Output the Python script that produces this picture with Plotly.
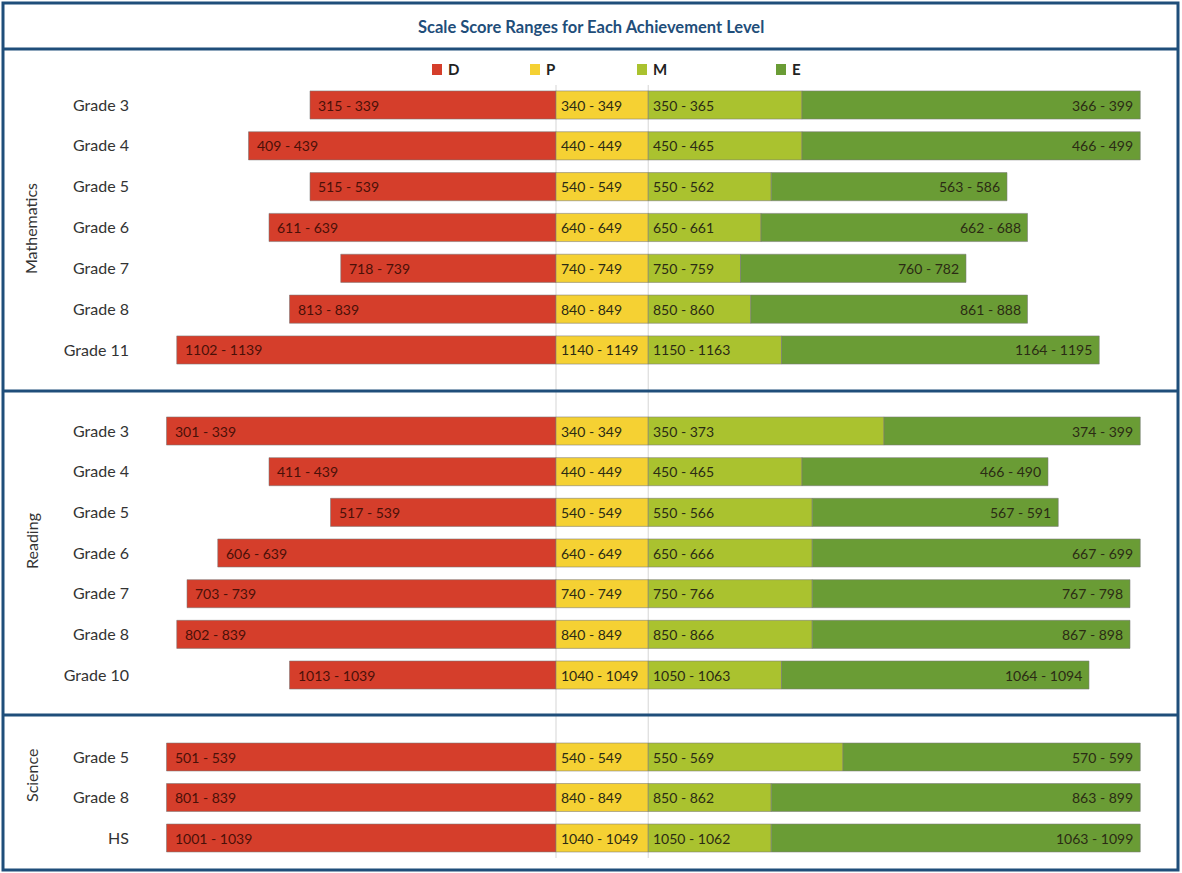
import plotly.graph_objects as go

# ---------------- data ----------------
levels = ["D", "P", "M", "E"]
level_colors = ["#D53E2B", "#F5D133", "#AAC22F", "#6A9C35"]

math_grades = ["Grade 3", "Grade 4", "Grade 5", "Grade 6", "Grade 7", "Grade 8", "Grade 11"]
math_d_lo = [315, 409, 515, 611, 718, 813, 1102]
math_p_lo = [340, 440, 540, 640, 740, 840, 1140]
math_m_lo = [350, 450, 550, 650, 750, 850, 1150]
math_e_lo = [366, 466, 563, 662, 760, 861, 1164]
math_e_hi = [399, 499, 586, 688, 782, 888, 1195]

read_grades = ["Grade 3", "Grade 4", "Grade 5", "Grade 6", "Grade 7", "Grade 8", "Grade 10"]
read_d_lo = [301, 411, 517, 606, 703, 802, 1013]
read_p_lo = [340, 440, 540, 640, 740, 840, 1040]
read_m_lo = [350, 450, 550, 650, 750, 850, 1050]
read_e_lo = [374, 466, 567, 667, 767, 867, 1064]
read_e_hi = [399, 490, 591, 699, 798, 898, 1094]

sci_grades = ["Grade 5", "Grade 8", "HS"]
sci_d_lo = [501, 801, 1001]
sci_p_lo = [540, 840, 1040]
sci_m_lo = [550, 850, 1050]
sci_e_lo = [570, 863, 1063]
sci_e_hi = [599, 899, 1099]

title_text = "Scale Score Ranges for Each Achievement Level"

# ---------------- layout constants ----------------
W, H = 1182, 873
FONT = "Lato"
NAVY = "#1F4E7A"
ZERO_PX = 556.0      # pixel where P starts
SCALE = 10.25        # pixels per score point
PLOT_LEFT_PX = 138

def py(p):
    return 1 - p / H

panels = [
    dict(name="Mathematics", grades=math_grades, d=math_d_lo, p=math_p_lo, m=math_m_lo,
         e=math_e_lo, hi=math_e_hi, axis="y", top=105, step=40.83, label_y=229),
    dict(name="Reading", grades=read_grades, d=read_d_lo, p=read_p_lo, m=read_m_lo,
         e=read_e_lo, hi=read_e_hi, axis="y2", top=431, step=40.67, label_y=541),
    dict(name="Science", grades=sci_grades, d=sci_d_lo, p=sci_p_lo, m=sci_m_lo,
         e=sci_e_lo, hi=sci_e_hi, axis="y3", top=757, step=40.5, label_y=776),
]

fig = go.Figure()
annotations = []
layout_axes = {}

for pn in panels:
    g = pn["grades"]
    n = len(g)
    dw = [(p - 1) - d for d, p in zip(pn["d"], pn["p"])]
    pw = [(m - 1) - p for p, m in zip(pn["p"], pn["m"])]
    mw = [(e - 1) - m for m, e in zip(pn["m"], pn["e"])]
    ew = [hi - e for e, hi in zip(pn["e"], pn["hi"])]
    widths = [dw, pw, mw, ew]
    bases = [[-w for w in dw], [0] * n, pw, [a + b for a, b in zip(pw, mw)]]
    lows = [pn["d"], pn["p"], pn["m"], pn["e"]]
    highs = [[p - 1 for p in pn["p"]], [m - 1 for m in pn["m"]],
             [e - 1 for e in pn["e"]], pn["hi"]]
    for li, lvl in enumerate(levels):
        fig.add_trace(go.Bar(
            orientation="h", y=g, x=widths[li], base=bases[li],
            marker=dict(color=level_colors[li], line=dict(color="rgba(120,120,120,0.55)", width=1)),
            width=0.69, xaxis="x", yaxis=pn["axis"], showlegend=False, name=lvl,
            hovertemplate=lvl + ": %{customdata}<extra></extra>",
            customdata=[f"{a} - {b}" for a, b in zip(lows[li], highs[li])],
        ))
        for i in range(n):
            txt = f"{lows[li][i]} - {highs[li][i]}"
            if lvl == "E":
                xa, xanc, shift = bases[li][i] + widths[li][i], "right", -5
            else:
                xa, xanc, shift = bases[li][i], "left", (6 if lvl == "D" else 3)
            annotations.append(dict(
                x=xa, y=g[i], xref="x", yref=pn["axis"], text=txt, showarrow=False,
                xanchor=xanc, xshift=shift, yanchor="middle",
                font=dict(family=FONT, size=14, color="#4A1008" if lvl == "D" else "#2B2B14"),
            ))
    top_px = pn["top"] - pn["step"] / 2
    bot_px = pn["top"] + pn["step"] * (n - 1) + pn["step"] / 2
    key = "yaxis" if pn["axis"] == "y" else "yaxis" + pn["axis"][1:]
    layout_axes[key] = dict(
        domain=[py(bot_px), py(top_px)], anchor="x",
        type="category", categoryorder="array", categoryarray=g,
        range=[n - 0.5, -0.5], showgrid=False, zeroline=False, showline=False,
        ticks="", ticklabelstandoff=8,
        tickfont=dict(family=FONT, size=16, color="#333333"),
        fixedrange=True,
    )
    annotations.append(dict(
        x=31 / W, y=py(pn["label_y"]), xref="paper", yref="paper", text=pn["name"],
        textangle=-90, showarrow=False, xanchor="center", yanchor="middle",
        font=dict(family=FONT, size=16, color="#333333"),
    ))

# title
annotations.append(dict(
    x=0.5, y=py(27), xref="paper", yref="paper", text="<b>" + title_text + "</b>",
    showarrow=False, xanchor="center", yanchor="middle",
    font=dict(family=FONT, size=16.5, color=NAVY),
))

shapes = []
# custom legend
legend_px = [432, 530, 637, 776]
for lvl, col, lx in zip(levels, level_colors, legend_px):
    shapes.append(dict(type="rect", xref="paper", yref="paper",
                       x0=lx / W, x1=(lx + 10) / W, y0=py(75), y1=py(64),
                       fillcolor=col, line=dict(width=0)))
    annotations.append(dict(x=(lx + 14) / W, y=py(69), xref="paper", yref="paper",
                            text="<b>" + lvl + "</b>", showarrow=False,
                            xanchor="left", yanchor="middle",
                            font=dict(family=FONT, size=15, color="#222222")))

# light vertical guide lines at P start and P end
p_width = (math_m_lo[0] - 1) - math_p_lo[0]
for gx in [0, p_width]:
    shapes.append(dict(type="line", xref="x", yref="paper", x0=gx, x1=gx,
                       y0=py(858), y1=py(85), layer="below",
                       line=dict(color="#DCDCDC", width=1.2)))

# panel borders
shapes.append(dict(type="rect", xref="paper", yref="paper", x0=3 / W, x1=1178 / W,
                   y0=py(870), y1=py(3), line=dict(color=NAVY, width=3), layer="above"))
for sep in [49, 391, 715]:
    shapes.append(dict(type="line", xref="paper", yref="paper", x0=3 / W, x1=1178 / W,
                       y0=py(sep), y1=py(sep), line=dict(color=NAVY, width=3), layer="above"))

x_range = [(PLOT_LEFT_PX - ZERO_PX) / SCALE, (W - ZERO_PX) / SCALE]

fig.update_layout(
    width=W, height=H,
    margin=dict(l=0, r=0, t=0, b=0),
    paper_bgcolor="white", plot_bgcolor="white",
    barmode="overlay", showlegend=False,
    xaxis=dict(domain=[PLOT_LEFT_PX / W, 1], range=x_range, visible=False,
               showgrid=False, zeroline=False, anchor="y", fixedrange=True),
    annotations=annotations, shapes=shapes,
    font=dict(family=FONT),
    **layout_axes,
)

fig.write_html("out.html")
